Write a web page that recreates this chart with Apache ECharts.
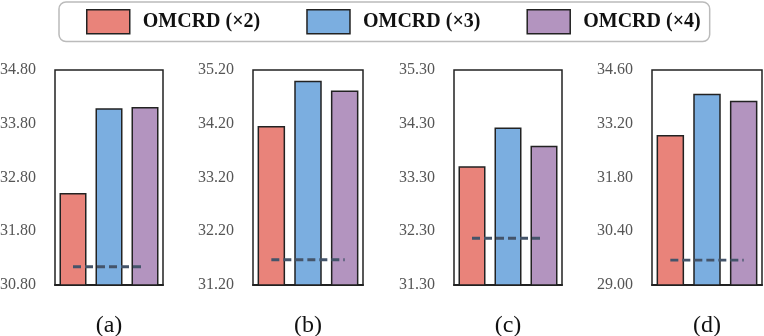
<!DOCTYPE html>
<html>
<head>
<meta charset="utf-8">
<script src="https://cdn.jsdelivr.net/npm/echarts@6/dist/echarts.min.js"></script>
<style>html,body{margin:0;padding:0;background:#fff}#c{width:764px;height:336px}</style>
</head>
<body>
<div id="c"></div>
<script>
const seriesNames = ['OMCRD (×2)', 'OMCRD (×3)', 'OMCRD (×4)'];
const panelLabels = ['(a)', '(b)', '(c)', '(d)'];
const valuesX2 = [32.51, 34.16, 33.51, 32.91];
const valuesX3 = [34.09, 35.00, 34.23, 33.98];
const valuesX4 = [34.11, 34.82, 33.89, 33.80];
const baselineValues = [31.14, 31.67, 32.17, 29.65];
const yMins = [30.8, 31.2, 31.3, 29.0];
const yMaxs = [34.8, 35.2, 35.3, 34.6];
const yIntervals = [1.0, 1.0, 1.0, 1.4];

const colors = ['#E9837A', '#7BAEE0', '#B394BF'];
const gridLefts = [55, 253, 454, 652];
const gridWidths = [108, 110, 108, 110];
const seriesValues = [valuesX2, valuesX3, valuesX4];
const font = '"Liberation Serif", "Times New Roman", serif';

const grids = [], xAxes = [], yAxes = [], series = [];
for (let p = 0; p < 4; p++) {
  grids.push({left: gridLefts[p], width: gridWidths[p], top: 70, height: 215,
    outerBoundsMode: 'none', containLabel: false,
    show: true, borderColor: '#222', borderWidth: 1.5, backgroundColor: 'transparent'});
  xAxes.push({type: 'category', gridIndex: p, data: seriesNames,
    axisLine: {show: true, lineStyle: {color: '#222', width: 2}},
    axisTick: {show: false}, axisLabel: {show: false},
    name: panelLabels[p], nameLocation: 'middle', nameGap: 29,
    nameTextStyle: {fontFamily: font, fontSize: 24, color: '#111'}});
  yAxes.push({type: 'value', gridIndex: p, min: yMins[p], max: yMaxs[p], interval: yIntervals[p],
    splitLine: {show: false}, axisLine: {show: false}, axisTick: {show: false},
    axisLabel: {margin: 19, fontFamily: font, fontSize: 16, color: '#555',
      formatter: v => v.toFixed(2)}});
  for (let s = 0; s < 3; s++) {
    const d = ['-', '-', '-'];
    d[s] = seriesValues[s][p];
    series.push({type: 'bar', name: seriesNames[s], xAxisIndex: p, yAxisIndex: p,
      data: d, barWidth: '75%', barGap: '-100%',
      itemStyle: {color: colors[s], borderColor: '#222', borderWidth: 1.5}});
  }
  series.push({type: 'line', xAxisIndex: p, yAxisIndex: p,
    data: [baselineValues[p], baselineValues[p], baselineValues[p]],
    symbol: 'none', silent: true, z: 5,
    lineStyle: {color: '#44546A', width: 2.8, type: [8, 4]}});
}

const chart = echarts.init(document.getElementById('c'), null, {renderer: 'canvas'});
chart.setOption({
  animation: false,
  legend: {data: seriesNames, icon: 'rect', left: 59, top: 2, itemWidth: 43, itemHeight: 24, itemGap: 46,
    padding: [7, 9, 7, 27], borderColor: '#bbb', borderWidth: 1.5, borderRadius: 7,
    itemStyle: {borderColor: '#222', borderWidth: 1.5},
    textStyle: {fontFamily: font, fontSize: 20, fontWeight: 'bold', color: '#111', padding: [0, 0, 0, 8]}},
  grid: grids, xAxis: xAxes, yAxis: yAxes, series: series
});
</script>
</body>
</html>
